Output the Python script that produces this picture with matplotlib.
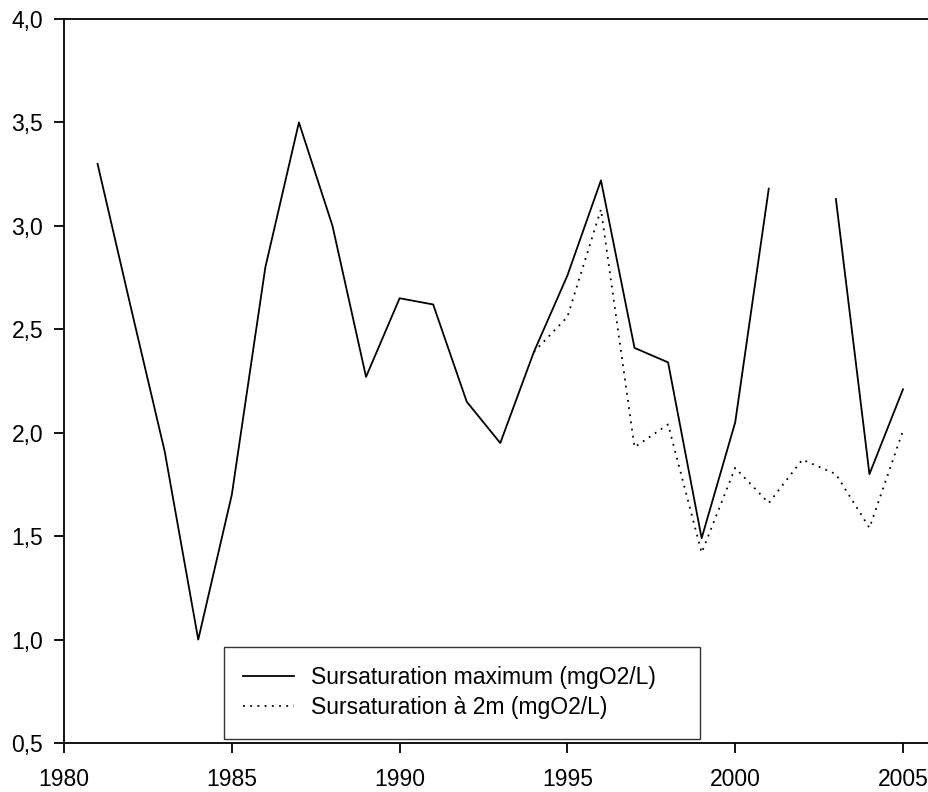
import numpy as np
import matplotlib.pyplot as plt
from matplotlib.ticker import FuncFormatter

plt.rcParams['font.family'] = ['Liberation Sans', 'DejaVu Sans']

years = list(range(1981, 2006))
sursat_max = [3.30, 2.60, 1.91, 1.00, 1.70, 2.80, 3.50, 3.00, 2.27, 2.65,
              2.62, 2.15, 1.95, 2.39, 2.76, 3.22, 2.41, 2.34, 1.49, 2.05,
              3.18, np.nan, 3.13, 1.80, 2.21]

years_2m = list(range(1994, 2006))
sursat_2m = [2.39, 2.56, 3.08, 1.93, 2.04, 1.42, 1.83, 1.66, 1.87, 1.80,
             1.54, 2.01]

yticks = [0.5, 1.0, 1.5, 2.0, 2.5, 3.0, 3.5, 4.0]
xticks = [1980, 1985, 1990, 1995, 2000, 2005]

FS = 16.5
W, H = 929, 792

fig = plt.figure(figsize=(W / 100, H / 100), dpi=100)
ax = fig.add_axes([64 / W, 49 / H, 1 - 64 / W, (743 - 19) / H])

ax.plot(years, sursat_max, color='black', lw=1.3,
        label='Sursaturation maximum (mgO2/L)')
ax.plot(years_2m, sursat_2m, color='black', lw=1.3, linestyle=(0, (1, 3)),
        label='Sursaturation à 2m (mgO2/L)')

ax.set_xlim(1980, 1980 + (W - 64) / 33.56)
ax.set_ylim(0.5, 4.0)
ax.set_xticks(xticks)
ax.set_yticks(yticks)
ax.yaxis.set_major_formatter(FuncFormatter(lambda v, p: f"{v:.1f}".replace('.', ',')))

for side in ['left', 'bottom', 'top']:
    ax.spines[side].set_linewidth(1.3)
ax.spines['right'].set_visible(False)
ax.tick_params(direction='out', length=7, width=1.3, labelsize=FS)
ax.tick_params(axis='x', pad=11)
ax.tick_params(axis='y', pad=8)

# legend box stretched to a fixed width inside the plot area
leg = ax.legend(loc='upper left',
                bbox_to_anchor=(224 / W, (H - 737) / H, 476 / W, 90 / H),
                bbox_transform=fig.transFigure, mode='expand',
                fontsize=FS, frameon=True, fancybox=False, edgecolor='black',
                borderpad=0.85, labelspacing=0.3, handlelength=2.2,
                handletextpad=0.75, borderaxespad=0)
leg.get_frame().set_linewidth(1.0)

fig.savefig('out.png', dpi=100)
